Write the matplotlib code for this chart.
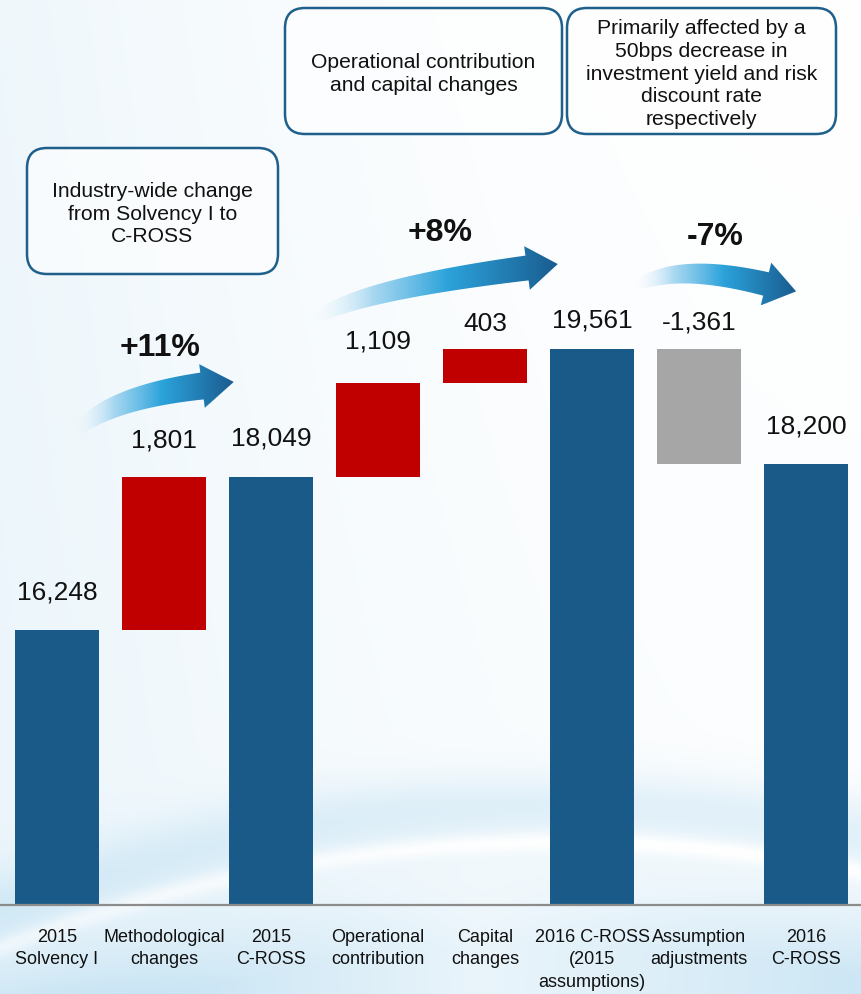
import numpy as np
import matplotlib
matplotlib.use('Agg')
import matplotlib.pyplot as plt
from matplotlib.patches import FancyBboxPatch, Polygon
from matplotlib.colors import LinearSegmentedColormap

plt.rcParams['font.family'] = ['Liberation Sans', 'DejaVu Sans']

# data
categories = ['2015\nSolvency I', 'Methodological\nchanges', '2015\nC-ROSS',
              'Operational\ncontribution', 'Capital\nchanges',
              '2016 C-ROSS\n(2015\nassumptions)', 'Assumption\nadjustments',
              '2016\nC-ROSS']
values = [16248, 1801, 18049, 1109, 403, 19561, -1361, 18200]
kinds = ['total', 'delta', 'total', 'delta', 'delta', 'total', 'delta', 'total']
value_labels = ['16,248', '1,801', '18,049', '1,109', '403', '19,561', '-1,361', '18,200']
pct_labels = ['+11%', '+8%', '-7%']
notes = ['Industry-wide change\nfrom Solvency I to\nC-ROSS',
         'Operational contribution\nand capital changes',
         'Primarily affected by a\n50bps decrease in\ninvestment yield and risk\ndiscount rate\nrespectively']

BLUE = '#1a5a89'
RED = '#c00000'
GREY = '#a6a6a6'
base = 13000

W, H = 861, 994
fig = plt.figure(figsize=(W / 100, H / 100), dpi=100)

# background
bg = fig.add_axes([0, 0, 1, 1], zorder=0)
yy, xx = np.mgrid[0:H, 0:W].astype(float)
tint = 0.14 * (1 - xx / W) ** 2 + 0.04 * (yy / H)
crest = 835 + 60 * ((xx - 560) / 420) ** 2
band = np.exp(-((yy - crest + 30) / 40) ** 2) * 0.22 * np.clip((yy - 700) / 100, 0, 1)
below = np.clip((yy - crest) / 110, 0, 1) * (0.12 + 0.35 * np.abs(xx - 480) / 480)
hl = np.exp(-((yy - crest - 6) / 10) ** 2) * 0.15
tint = np.clip(tint + band + below - hl, 0, 1)
light = np.array([0.55, 0.78, 0.91])
img = 1 - tint[..., None] * (1 - light)
bg.imshow(img, extent=(0, W, H, 0), aspect='auto')
bg.set_xlim(0, W)
bg.set_ylim(H, 0)
bg.axis('off')

# waterfall
ax = fig.add_axes([0, 0, 1, 1], zorder=1)
ax.patch.set_alpha(0)
x = np.arange(len(values))
bottoms, heights, colors, tops = [], [], [], []
running = base
for v, k in zip(values, kinds):
    if k == 'total':
        bottoms.append(base)
        heights.append(v - base)
        colors.append(BLUE)
        running = v
        tops.append(v)
    else:
        if v >= 0:
            bottoms.append(running)
            heights.append(v)
            colors.append(RED)
            tops.append(running + v)
        else:
            bottoms.append(running + v)
            heights.append(-v)
            colors.append(GREY)
            tops.append(running)
        running += v
ax.bar(x, heights, bottom=bottoms, width=0.79, color=colors, zorder=2)
ax.axhline(base, color='#8c8c8c', lw=1.6, zorder=3)

label_offsets = [37, 36, 38, 41, 25, 28, 26, 37]
for i, (t, lab) in enumerate(zip(tops, value_labels)):
    ax.annotate(lab, (i, t), xytext=(0, label_offsets[i] * 0.72), textcoords='offset points',
                ha='center', va='center', fontsize=19, color='#111111')

for i, c in enumerate(categories):
    ax.text(i, 1 - 929 / H, c, transform=ax.get_xaxis_transform(), ha='center', va='top',
            fontsize=13, linespacing=1.42, color='#111111')

ax.set_xlim(-0.533, 7.514)
ax.set_ylim(base - 89 * 11.79, base + 905 * 11.79)
ax.axis('off')

# decorations (pixel coordinates)
deco = fig.add_axes([0, 0, 1, 1], zorder=2)
deco.patch.set_alpha(0)

arrow_cmap = LinearSegmentedColormap.from_list('arr', [
    (0.0, (0.92, 0.97, 0.99, 0.0)),
    (0.25, (0.62, 0.83, 0.94, 0.9)),
    (0.55, (0.17, 0.64, 0.86, 1.0)),
    (1.0, (0.10, 0.36, 0.56, 1.0))])


def gradient_arrow(p0, p1, p2, width, head_w, head_len):
    p0, p1, p2 = np.array(p0, float), np.array(p1, float), np.array(p2, float)
    t = np.linspace(0, 1, 80)
    pts = ((1 - t) ** 2)[:, None] * p0 + (2 * (1 - t) * t)[:, None] * p1 + (t ** 2)[:, None] * p2
    d = (2 * (1 - t))[:, None] * (p1 - p0) + (2 * t)[:, None] * (p2 - p1)
    d /= np.linalg.norm(d, axis=1)[:, None]
    n = np.stack([-d[:, 1], d[:, 0]], axis=1)
    w = width / 2 * t ** 0.3
    left = pts + n * w[:, None]
    right = pts - n * w[:, None]
    tip = p2 + d[-1] * head_len
    h1 = p2 + n[-1] * head_w
    h2 = p2 - n[-1] * head_w
    poly = np.vstack([left, h1, tip, h2, right[::-1]])
    patch = Polygon(poly, closed=True, facecolor='none', edgecolor='none')
    deco.add_patch(patch)
    x0, x1 = poly[:, 0].min(), poly[:, 0].max()
    y0, y1 = poly[:, 1].min(), poly[:, 1].max()
    grad = np.linspace(0, 1, 256)[None, :]
    im = deco.imshow(grad, cmap=arrow_cmap, extent=(x0, x1, y1, y0), aspect='auto', zorder=3)
    im.set_clip_path(patch)


gradient_arrow((76, 432), (108, 398), (202, 386), 27, 22, 32)
gradient_arrow((313, 320), (356, 290), (527, 268), 25, 22, 31)
gradient_arrow((635, 287), (676, 262), (766, 284), 24, 22, 31)

pct_pos = [(160, 348), (440, 233), (715, 237)]
for (px, py), lab in zip(pct_pos, pct_labels):
    deco.text(px, py, lab, ha='center', va='center', fontsize=23, fontweight='bold', color='#111111')

boxes = [(27, 148, 251, 126), (285, 8, 277, 126), (567, 8, 269, 126)]
for (bx, by, bw, bh), note in zip(boxes, notes):
    deco.add_patch(FancyBboxPatch((bx, by), bw, bh, boxstyle='round,pad=0,rounding_size=20',
                                  facecolor=(1, 1, 1, 0.6), edgecolor='#1f5f8b', lw=1.8, zorder=4))
    deco.text(bx + bw / 2, by + bh / 2 + 3, note, ha='center', va='center', fontsize=15.2,
              linespacing=1.25, color='#111111', zorder=5)

deco.set_xlim(0, W)
deco.set_ylim(H, 0)
deco.axis('off')

fig.savefig('out.png', dpi=100)
